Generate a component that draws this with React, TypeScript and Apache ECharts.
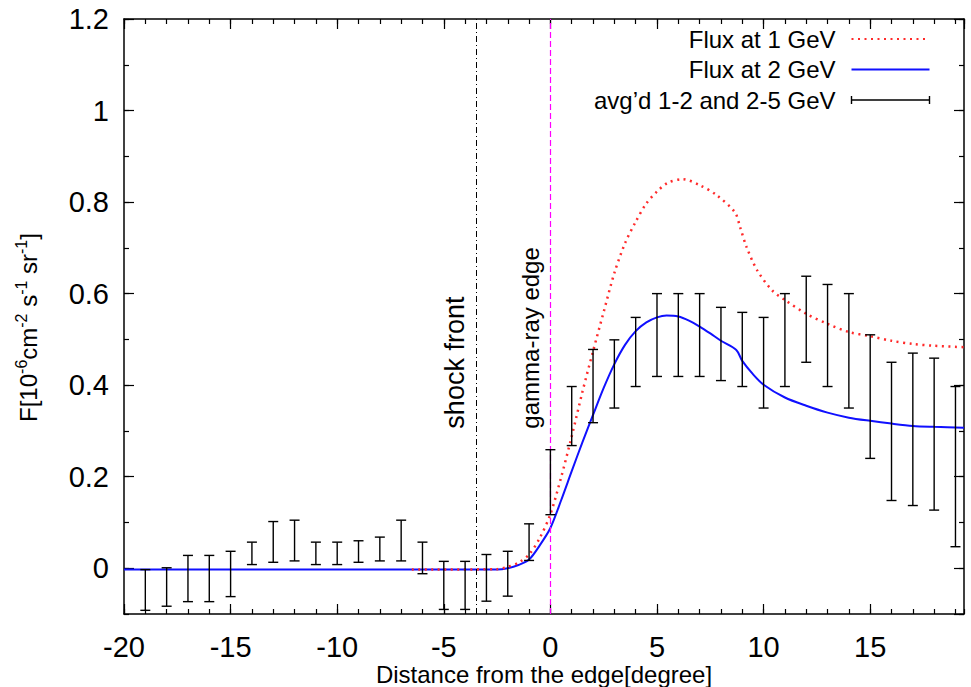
import React, { useEffect, useRef } from "react";
import * as echarts from "echarts";

const FONT = "'Liberation Sans', Arial, Helvetica, sans-serif";

// Axis ranges
const X_MIN = -20;
const X_MAX = 19.4;
const Y_MIN = -0.1;
const Y_MAX = 1.2;

// Reference lines
const SHOCK_X = -3.5;
const EDGE_X = 0;
const LABEL_Y = 0.305;

// Model curve: Flux at 1 GeV (red dotted)
const FLUX1_X = [-6.5, -2.5, -2, -1.5, -1, -0.5, 0, 0.5, 1, 1.5, 2, 2.5, 3, 3.5, 4, 4.5, 5, 5.5, 6.2, 7, 7.8, 8.65, 8.9, 9.2, 9.7, 10.4, 11, 12, 13, 14, 15, 16, 17, 18, 19.4];
const FLUX1_Y = [-0.003, -0.002, 0.003, 0.012, 0.03, 0.066, 0.118, 0.198, 0.288, 0.385, 0.474, 0.56, 0.645, 0.71, 0.757, 0.797, 0.823, 0.842, 0.85, 0.837, 0.815, 0.778, 0.745, 0.702, 0.651, 0.607, 0.586, 0.556, 0.534, 0.516, 0.507, 0.497, 0.49, 0.486, 0.483];

// Model curve: Flux at 2 GeV (blue solid)
const FLUX2_X = [-20, -2.5, -2, -1.5, -1, -0.5, 0, 0.5, 1, 1.5, 2, 2.5, 3, 3.5, 4, 4.5, 5, 5.45, 6, 6.5, 7, 7.5, 8, 8.72, 9, 9.5, 10, 11, 12, 13, 14, 15, 16, 17, 18, 19.4];
const FLUX2_Y = [-0.003, -0.003, 0.0, 0.007, 0.019, 0.05, 0.088, 0.148, 0.212, 0.275, 0.335, 0.394, 0.446, 0.488, 0.518, 0.537, 0.548, 0.552, 0.55, 0.541, 0.528, 0.513, 0.497, 0.477, 0.453, 0.424, 0.401, 0.373, 0.355, 0.34, 0.329, 0.322, 0.316, 0.311, 0.309, 0.307];

// Data: avg'd 1-2 and 2-5 GeV (error bars, low / high)
const ERR_X = [-19, -18, -17, -16, -15, -14, -13, -12, -11, -10, -9, -8, -7, -6, -5, -4, -3, -2, -1, 0, 1, 2, 3, 4, 5, 6, 7, 8, 9, 10, 11, 12, 13, 14, 15, 16, 17, 18, 19];
const ERR_LO = [-0.092, -0.083, -0.073, -0.073, -0.062, 0.008, 0.013, 0.016, 0.008, 0.008, 0.013, 0.016, 0.016, -0.012, -0.09, -0.09, -0.072, -0.061, 0.017, 0.117, 0.268, 0.318, 0.35, 0.397, 0.419, 0.419, 0.419, 0.41, 0.397, 0.35, 0.397, 0.45, 0.397, 0.35, 0.24, 0.148, 0.137, 0.127, 0.047];
const ERR_HI = [-0.003, 0.001, 0.028, 0.028, 0.037, 0.057, 0.102, 0.105, 0.057, 0.057, 0.06, 0.068, 0.105, 0.057, 0.015, 0.015, 0.03, 0.037, 0.097, 0.259, 0.397, 0.478, 0.499, 0.548, 0.6, 0.6, 0.6, 0.57, 0.559, 0.548, 0.6, 0.638, 0.62, 0.6, 0.51, 0.45, 0.47, 0.459, 0.397];

const NAME_1 = "Flux at 1 GeV";
const NAME_2 = "Flux at 2 GeV";
const NAME_D = "avg\u2019d 1-2 and 2-5 GeV";

const X_NAME = "Distance from the edge[degree]";
const Y_NAME = "F[10{s|-6}cm{s|-2} s{s|-1} sr{s|-1}]";

export default function App() {
  const ref = useRef<HTMLDivElement>(null);

  useEffect(() => {
    const chart = echarts.init(ref.current!, null, { renderer: "svg" });

    const axisLineOn = { show: true, onZero: false, lineStyle: { color: "#000", width: 1.5 } };
    const axisLineOff = { show: false, onZero: false };
    const tickLabel = { fontFamily: FONT, fontSize: 29, lineHeight: 29, color: "#000" };

    const mkX = (position: string, interval: number, len: number, main: boolean, labels: boolean) => ({
      type: "value",
      position,
      min: X_MIN,
      max: X_MAX,
      interval,
      axisLine: main ? axisLineOn : axisLineOff,
      axisTick: { show: true, inside: true, length: len, lineStyle: { color: "#000", width: 1.2 } },
      axisLabel: labels ? { ...tickLabel, margin: 18, showMaxLabel: false } : { show: false },
      splitLine: { show: false },
    });

    const mkY = (position: string, minor: boolean, len: number, main: boolean, labels: boolean) => ({
      type: "value",
      position,
      min: Y_MIN,
      max: Y_MAX,
      ...(minor ? { interval: 0.1 } : { minInterval: 0.2, maxInterval: 0.2, splitNumber: 6 }),
      axisLine: main ? axisLineOn : axisLineOff,
      axisTick: { show: true, inside: true, length: len, lineStyle: { color: "#000", width: 1.2 } },
      axisLabel: labels ? { ...tickLabel, margin: 15, showMinLabel: false } : { show: false },
      splitLine: { show: false },
    });

    const x0: any = mkX("bottom", 5, 10, true, true);
    x0.name = X_NAME;
    x0.nameLocation = "middle";
    x0.nameGap = 48;
    x0.nameMoveOverlap = false;
    x0.nameTextStyle = { fontFamily: FONT, fontSize: 24, lineHeight: 24, color: "#000" };

    const y0: any = mkY("left", false, 10, true, true);
    y0.name = Y_NAME;
    y0.nameLocation = "middle";
    y0.nameGap = 80;
    y0.nameMoveOverlap = false;
    y0.nameTextStyle = {
      fontFamily: FONT,
      fontSize: 24,
      color: "#000",
      padding: [0, 22, 0, 0],
      rich: { s: { fontFamily: FONT, fontSize: 16, color: "#000", padding: [0, 0, 15, 0] } },
    };

    const option: any = {
      animation: false,
      backgroundColor: "#fff",
      grid: { left: 124, right: 7, top: 19, bottom: 73, outerBoundsMode: "none", containLabel: false },
      xAxis: [
        x0,
        mkX("bottom", 1, 5, false, false),
        mkX("top", 5, 10, true, false),
        mkX("top", 1, 5, false, false),
      ],
      yAxis: [
        y0,
        mkY("left", true, 5, false, false),
        mkY("right", false, 10, true, false),
        mkY("right", true, 5, false, false),
      ],
      legend: {
        orient: "vertical",
        align: "right",
        right: 39,
        top: 27,
        padding: 0,
        itemWidth: 78,
        itemHeight: 10,
        itemGap: 6.5,
        selectedMode: false,
        textStyle: { fontFamily: FONT, fontSize: 24, color: "#000", lineHeight: 22, padding: [0, 11, 0, 0] },
        data: [
          { name: NAME_1, itemStyle: { opacity: 0 } },
          { name: NAME_2, itemStyle: { opacity: 0 } },
          {
            name: NAME_D,
            icon: "path://M0 0V8M0 4H78M78 0V8",
            itemStyle: { color: "none", borderColor: "#000", borderWidth: 1.4 },
          },
        ],
      },
      series: [
        {
          name: NAME_2,
          type: "line",
          xAxisIndex: 0,
          yAxisIndex: 0,
          data: FLUX2_X.map((x, i) => [x, FLUX2_Y[i]]),
          symbol: "none",
          showSymbol: false,
          smooth: 0.3,
          color: "#1010ff",
          lineStyle: { color: "#1010ff", width: 2 },
          z: 3,
          markLine: {
            silent: true,
            symbol: ["none", "none"],
            label: { show: false },
            animation: false,
            data: [
              { xAxis: SHOCK_X, lineStyle: { color: "#000", type: [6, 3, 1, 3], width: 1 } },
              { xAxis: EDGE_X, lineStyle: { color: "#ff00ff", type: [6, 3], width: 1.2 } },
            ],
          },
        },
        {
          name: NAME_1,
          type: "line",
          xAxisIndex: 0,
          yAxisIndex: 0,
          data: FLUX1_X.map((x, i) => [x, FLUX1_Y[i]]),
          symbol: "none",
          showSymbol: false,
          smooth: 0.3,
          color: "#ff2a2a",
          lineStyle: { color: "#ff2a2a", width: 2.5, type: [2, 4.5] },
          z: 4,
        },
        {
          name: NAME_D,
          type: "custom",
          xAxisIndex: 0,
          yAxisIndex: 0,
          color: "#000",
          encode: { x: 0, y: [1, 2] },
          data: ERR_X.map((x, i) => [x, ERR_LO[i], ERR_HI[i]]),
          z: 5,
          renderItem: (params: any, api: any) => {
            const x = api.value(0);
            const lo = api.coord([x, api.value(1)]);
            const hi = api.coord([x, api.value(2)]);
            const hw = 5;
            const style = { stroke: "#000", lineWidth: 1.4, fill: "none" };
            return {
              type: "group",
              children: [
                { type: "line", shape: { x1: lo[0], y1: lo[1], x2: hi[0], y2: hi[1] }, style },
                { type: "line", shape: { x1: lo[0] - hw, y1: lo[1], x2: lo[0] + hw, y2: lo[1] }, style },
                { type: "line", shape: { x1: hi[0] - hw, y1: hi[1], x2: hi[0] + hw, y2: hi[1] }, style },
              ],
            };
          },
        },
      ],
    };

    chart.setOption(option);

    const pShock = chart.convertToPixel({ xAxisIndex: 0, yAxisIndex: 0 }, [SHOCK_X, LABEL_Y]) as number[];
    const pEdge = chart.convertToPixel({ xAxisIndex: 0, yAxisIndex: 0 }, [EDGE_X, LABEL_Y]) as number[];
    chart.setOption({
      graphic: [
        {
          type: "text",
          x: pShock[0] - 21,
          y: pShock[1],
          rotation: Math.PI / 2,
          style: { text: "shock front", fontFamily: FONT, fontSize: 27, fill: "#000", align: "left", verticalAlign: "middle" },
        },
        {
          type: "text",
          x: pEdge[0] - 20,
          y: pEdge[1],
          rotation: Math.PI / 2,
          style: { text: "gamma-ray edge", fontFamily: FONT, fontSize: 24, fill: "#000", align: "left", verticalAlign: "middle" },
        },
      ],
    });

    return () => chart.dispose();
  }, []);

  return <div ref={ref} style={{ position: "absolute", left: 0, top: 0, width: 971, height: 687 }} />;
}
